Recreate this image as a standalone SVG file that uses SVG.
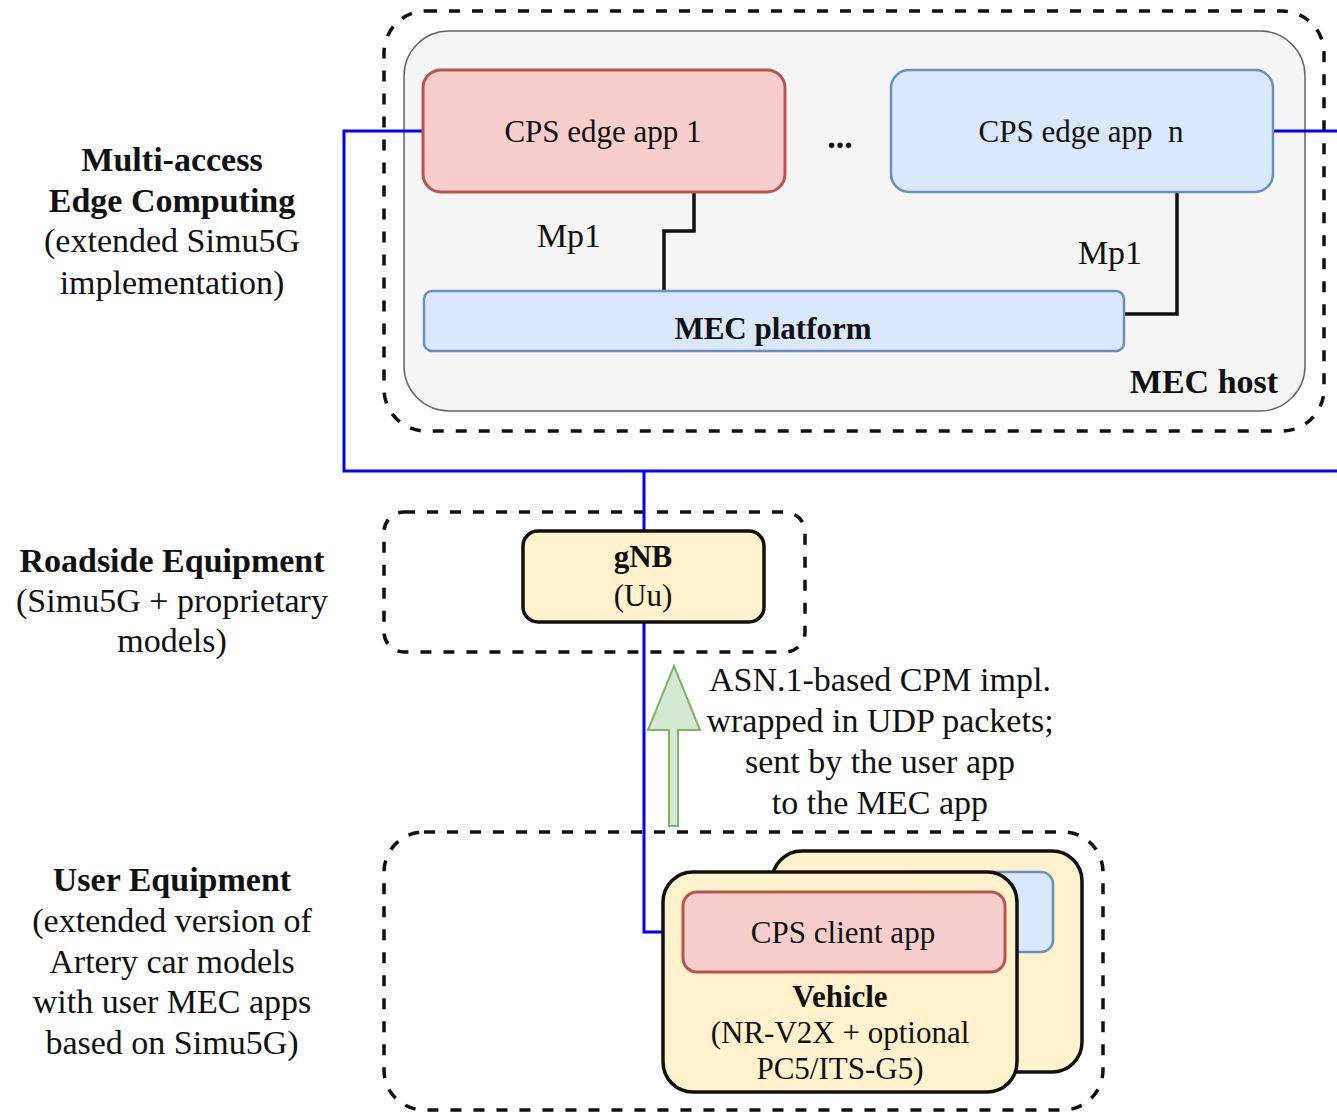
<svg xmlns="http://www.w3.org/2000/svg" width="1337" height="1114" viewBox="0 0 1337 1114">
<style>
text{font-family:"Liberation Serif","Times New Roman",serif;fill:#111;text-anchor:middle}
.lbl{font-size:34px}
.in{font-size:31px}
.b{font-weight:bold}
.dash{fill:none;stroke:#111;stroke-width:3.5;stroke-dasharray:11 12}
.red{fill:#f8cecc;stroke:#b85450;stroke-width:3}
.blu{fill:#dae8fc;stroke:#6c8ebf;stroke-width:2.5}
.yel{fill:#fff2cc;stroke:#111;stroke-width:3.5}
.wire{fill:none;stroke:#0000ff;stroke-width:3}
.mp{fill:none;stroke:#111;stroke-width:3.5}
</style>
<rect width="1337" height="1114" fill="#fff"/>

<g id="mec-zone">
<rect class="dash" x="384" y="11" width="940" height="420" rx="42"/>
</g>
<g id="mec-host">
<rect x="404" y="31" width="901" height="380" rx="45" fill="#f5f5f5" stroke="#666" stroke-width="1.5"/>
<text class="lbl b" x="1204" y="393">MEC host</text>
</g>
<g id="rse-zone">
<rect class="dash" x="384" y="512" width="421" height="140" rx="20"/>
</g>
<g id="ue-zone">
<rect class="dash" x="384" y="832" width="719" height="278" rx="40"/>
</g>

<g id="connectors">
<path class="wire" d="M423,131 H344 V471 H1337"/>
<path class="wire" d="M1273,131 H1337"/>
<path class="wire" d="M644,471 V932 H683"/>
<path class="mp" d="M694,192 V231 H664 V291"/>
<path class="mp" d="M1177,192 V314 H1124"/>
</g>

<g id="cps-edge-app-1">
<rect class="red" x="423" y="70" width="362" height="122" rx="18"/>
<text class="in" x="603" y="142">CPS edge app 1</text>
</g>
<g id="dots"><text class="lbl b" x="840" y="148">...</text></g>
<g id="cps-edge-app-n">
<rect class="blu" x="891" y="70" width="382" height="122" rx="18"/>
<text class="in" x="1081" y="142" style="white-space:pre">CPS edge app  n</text>
</g>
<g id="mec-platform">
<rect class="blu" x="424" y="291" width="700" height="60" rx="8"/>
<text class="in b" x="773" y="339">MEC platform</text>
</g>
<g id="mp1-labels">
<text class="lbl" x="569" y="247">Mp1</text>
<text class="lbl" x="1110" y="264">Mp1</text>
</g>

<g id="gnb">
<rect class="yel" x="523" y="531" width="241" height="91" rx="15"/>
<text class="in b" x="643" y="567">gNB</text>
<text class="in" x="643" y="606">(Uu)</text>
</g>

<g id="cpm-arrow">
<path d="M674,666 L700,730 H678 V826 H669 V730 H648 Z" fill="#d5e8d4" stroke="#82b366" stroke-width="2"/>
<text class="lbl" x="880" y="691">ASN.1-based CPM impl.</text>
<text class="lbl" x="880" y="732">wrapped in UDP packets;</text>
<text class="lbl" x="880" y="773">sent by the user app</text>
<text class="lbl" x="880" y="814">to the MEC app</text>
</g>

<g id="vehicle-back">
<rect class="yel" x="772" y="851" width="310" height="221" rx="30"/>
<rect class="blu" x="900" y="872" width="153" height="80" rx="12"/>
</g>
<g id="vehicle">
<rect class="yel" x="663" y="872" width="354" height="220" rx="30"/>
<text class="in b" x="840" y="1007">Vehicle</text>
<text class="in" x="840" y="1043">(NR-V2X + optional</text>
<text class="in" x="840" y="1079">PC5/ITS-G5)</text>
</g>
<g id="cps-client-app">
<rect class="red" x="683" y="892" width="322" height="80" rx="14"/>
<text class="in" x="843" y="943">CPS client app</text>
</g>

<g id="left-labels">
<text class="lbl b" x="172" y="171">Multi-access</text>
<text class="lbl b" x="172" y="212">Edge Computing</text>
<text class="lbl" x="172" y="252">(extended Simu5G</text>
<text class="lbl" x="172" y="294">implementation)</text>
<text class="lbl b" x="172" y="572">Roadside Equipment</text>
<text class="lbl" x="172" y="612">(Simu5G + proprietary</text>
<text class="lbl" x="172" y="652">models)</text>
<text class="lbl b" x="172" y="891">User Equipment</text>
<text class="lbl" x="172" y="932">(extended version of</text>
<text class="lbl" x="172" y="973">Artery car models</text>
<text class="lbl" x="172" y="1013">with user MEC apps</text>
<text class="lbl" x="172" y="1054">based on Simu5G)</text>
</g>
</svg>
